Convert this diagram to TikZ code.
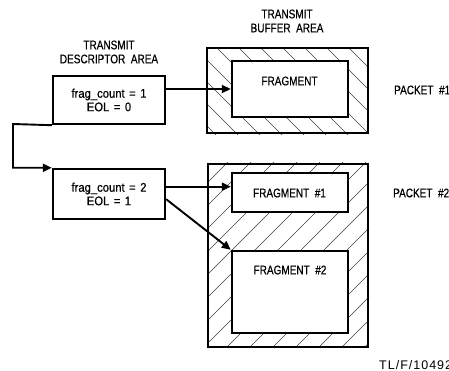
\documentclass[tikz,border=0pt]{standalone}
\usepackage{fontspec}
\setmainfont{Liberation Sans}[FakeStretch=0.8,FakeBold=0.5]
\newfontfamily\lcfont{Liberation Sans}[FakeStretch=0.9,FakeBold=0.5]
\newfontfamily\tlfont{Liberation Sans}[LetterSpace=8]
\usetikzlibrary{arrows.meta,calc}
\tikzset{
  box/.style={draw,line width=2.4pt,rectangle,inner sep=0pt,align=center,fill=white},
  area/.style={draw,line width=2.2pt,rectangle,inner sep=0pt},
  lbl/.style={inner sep=0pt,align=center,font=\fontsize{12.5}{14}\selectfont},
  arr/.style={line width=1.9pt,-{Triangle[length=9pt,width=8pt]}},
  hatch/.style={line width=0.6pt,black!75},
}
\newcommand{\eqsp}{\hspace{4.5pt}=\hspace{4.5pt}}
\begin{document}
\begin{tikzpicture}[x=1pt,y=-1pt,font=\fontsize{12.5}{13}\selectfont]
\useasboundingbox (0,0) rectangle (449,371);
% buffer areas
\node[area,minimum width=161pt,minimum height=85pt] (buf1) at (287.5,90.5) {};
\node[area,minimum width=160pt,minimum height=183pt] (buf2) at (288,255.5) {};
\begin{scope}
  \clip (buf1.north west) rectangle (buf1.south east);
  \foreach \i in {-5,...,8} \draw[hatch] (217+22*\i,48) -- ++(110,110);
\end{scope}
\begin{scope}
  \clip (buf2.north west) rectangle (buf2.south east);
  \foreach \i in {-9,...,7} \draw[hatch] (227+23*\i,347) -- ++(200,-200);
\end{scope}
\node[area,minimum width=161pt,minimum height=85pt] at (buf1) {};
\node[area,minimum width=160pt,minimum height=183pt] at (buf2) {};
% fragments
\node[box,minimum width=116pt,minimum height=56pt] (frag) at (290,89) {};
\node[box,minimum width=116pt,minimum height=39pt] (frag1) at (290,192.5) {};
\node[box,minimum width=116pt,minimum height=82pt] (frag2) at (290,292) {};
\node[lbl] (tfrag) at (289.5,81) {FRAGMENT};
\node[lbl] (tfrag1) at (289.5,193) {FRAGMENT\ \ \#1};
\node[lbl] (tfrag2) at (290,270) {FRAGMENT\ \ \#2};
% descriptors
\node[box,minimum width=112pt,minimum height=48pt,font=\lcfont\fontsize{12.5}{13.5}\selectfont] (d1) at (109,100) {frag\_count\eqsp1\\EOL\eqsp0};
\node[box,minimum width=112pt,minimum height=50pt,font=\lcfont\fontsize{12.5}{13.5}\selectfont] (d2) at (109,194) {frag\_count\eqsp2\\EOL\eqsp1};
% headings
\node[lbl] (h1) at (287,21) {TRANSMIT\\BUFFER\ \ AREA};
\node[lbl] (h2) at (109,52) {TRANSMIT\\DESCRIPTOR\ \ AREA};
\node[lbl,anchor=west] (p1) at (394,90) {PACKET\ \ \#1};
\node[lbl,anchor=west] (p2) at (393,193) {PACKET\ \ \#2};
\node[inner sep=0pt,anchor=west,font=\tlfont\fontsize{12.5}{13}\selectfont] (tl) at (379,365) {TL/F/10492};
% connectors
\coordinate (turn) at (13,124);
\coordinate (s1) at ($(d2.north east)!0.36!(d2.south east)$);
\coordinate (s2) at ($(d2.north east)!0.6!(d2.south east)$);
\draw[arr] (d1.east |- frag.west) -- (frag.west);
\draw[arr] (d1.south west) -- (turn) |- (d2.north west);
\draw[arr] (s1) -- (s1 -| frag1.west);
\draw[arr] (s2) -- (frag2.north west);
\end{tikzpicture}
\end{document}
